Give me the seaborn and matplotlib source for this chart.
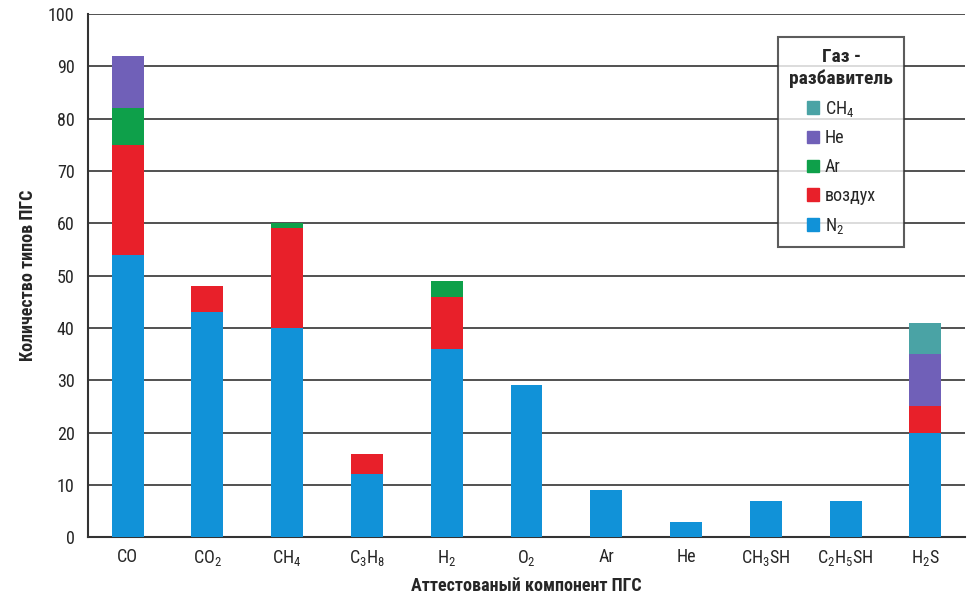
import matplotlib
matplotlib.use("Agg")
import matplotlib.pyplot as plt
import seaborn as sns
import numpy as np
import pandas as pd
from matplotlib.font_manager import fontManager

categories = ["CO", r"$\mathregular{CO_2}$", r"$\mathregular{CH_4}$", r"$\mathregular{C_3H_8}$",
              r"$\mathregular{H_2}$", r"$\mathregular{O_2}$", "Ar", "He",
              r"$\mathregular{CH_3SH}$", r"$\mathregular{C_2H_5SH}$", r"$\mathregular{H_2S}$"]
n2    = [54, 43, 40, 12, 36, 29, 9, 3, 7, 7, 20]
air   = [21, 5, 19, 4, 10, 0, 0, 0, 0, 0, 5]
ar    = [7, 0, 1, 0, 3, 0, 0, 0, 0, 0, 0]
he    = [10, 0, 0, 0, 0, 0, 0, 0, 0, 0, 10]
ch4   = [0, 0, 0, 0, 0, 0, 0, 0, 0, 0, 6]
series_names = [r"$\mathregular{N_2}$", "воздух", "Ar", "He", r"$\mathregular{CH_4}$"]
series_vals = [n2, air, ar, he, ch4]
colors = ["#1192d8", "#e8202a", "#0ea04a", "#7060b8", "#4aa3a5"]

sns.set_theme(style="white")
names = {f.name for f in fontManager.ttflist}
fam = "Liberation Sans Narrow" if "Liberation Sans Narrow" in names else "Roboto Condensed" if "Roboto Condensed" in names else "Liberation Sans"
plt.rcParams["font.family"] = [fam, "DejaVu Sans"]
plt.rcParams["mathtext.fontset"] = "custom"
plt.rcParams["mathtext.rm"] = fam

fig = plt.figure(figsize=(9.75, 6.05), dpi=100)
ax = fig.add_axes([0.090, 0.112, 0.900, 0.865])

x = np.arange(len(categories))
cum = np.zeros(len(categories))
handles = []
for name, vals, c in zip(series_names, series_vals, colors):
    vals = np.array(vals, dtype=float)
    df = pd.DataFrame({"x": x, "y": vals})
    sns.barplot(data=df, x="x", y="y", bottom=cum, color=c, width=0.4,
                saturation=1, ax=ax, native_scale=True, zorder=3, linewidth=0)
    handles.append(plt.Rectangle((0, 0), 1, 1, color=c, label=name))
    cum += vals

ax.set_xlim(-0.5, len(categories) - 0.5)
ax.set_ylim(0, 100)
ax.set_yticks(np.arange(0, 101, 10))
ax.set_xticks(x)
ax.set_xticklabels(categories, fontsize=13)
ax.set_xticks(np.arange(-0.5, len(categories), 1), minor=True)
ax.tick_params(axis="x", which="major", length=0, pad=8)
ax.tick_params(axis="x", which="minor", length=6, width=1.2, color="#333333", direction="out")
ax.tick_params(axis="y", length=6, width=1.2, color="#333333", direction="out", labelsize=13)
ax.yaxis.grid(True, color="#333333", linewidth=1.2, zorder=0)
ax.set_axisbelow(True)
for s in ["top", "right"]:
    ax.spines[s].set_visible(False)
for s in ["left", "bottom"]:
    ax.spines[s].set_color("#333333")
    ax.spines[s].set_linewidth(1.5)

ax.set_xlabel("Аттестованый компонент ПГС", fontsize=13, fontweight="bold", labelpad=6)
ax.set_ylabel("Количество типов ПГС", fontsize=13, fontweight="bold", labelpad=8)

leg = ax.legend(handles=handles[::-1], title="Газ -\nразбавитель", loc="upper left",
                bbox_to_anchor=(0.787, 0.955), frameon=True, fancybox=False,
                fontsize=13, title_fontproperties={"weight": "bold", "size": 14},
                handlelength=0.7, handleheight=0.7, handletextpad=0.3,
                labelspacing=0.6, borderpad=0.6, borderaxespad=0)
leg.get_frame().set_edgecolor("#333333")
leg.get_frame().set_linewidth(1.5)
leg.get_title().set_multialignment("center")
leg.set_zorder(5)

fig.savefig("out.png", dpi=100)
